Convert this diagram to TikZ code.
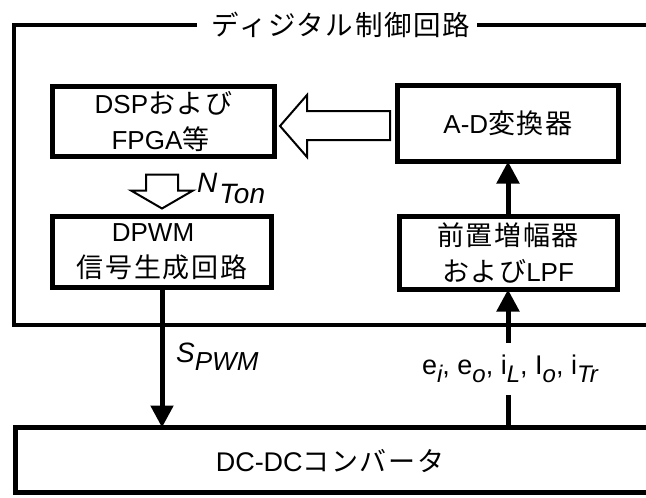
\documentclass[tikz,border=0pt]{standalone}
\usepackage{fontspec}
\setmainfont{Liberation Sans}
\newfontfamily\jp[LetterSpace=6]{Noto Sans CJK JP}
\usetikzlibrary{arrows.meta,calc}
\newcommand\J[1]{{\jp\fontsize{27}{36}\selectfont #1}}
\newcommand\subx[1]{\raisebox{-8pt}{\fontsize{24}{24}\selectfont\itshape #1}}
\begin{document}
\begin{tikzpicture}[x=1pt,y=-1pt,
  blk/.style={draw, line width=5pt, rectangle, outer sep=0pt, inner sep=0pt, fill=white,
    align=center, font=\fontsize{26}{36}\selectfont},
  frameline/.style={line width=4.5pt},
  conn/.style={line width=5pt, -{Triangle[length=22pt,width=22pt]}},
  hollow/.style={draw, line width=2pt, fill=white, line join=miter},
  lab/.style={font=\fontsize{27}{30}\selectfont, inner sep=0pt}]
\useasboundingbox (0,0) rectangle (646,498);
% frame
\draw[frameline] (197,25) -- (14,25) -- (14,325) -- (660,325);
\draw[frameline] (477,25) -- (660,25);
\node[inner sep=0pt, font=\jp\fontsize{27.5}{30}\selectfont] (title) at (341,25) {ディジタル制御回路};
% blocks
\node[blk, minimum width=222pt, minimum height=70pt] (dsp) at (163.5,121.5) {DSP\J{および}\\FPGA\J{等}\kern6pt};
\node[blk, minimum width=221pt, minimum height=76pt] (ad) at (508,123.5) {A-D\J{変換器}};
\node[blk, minimum width=219pt, minimum height=71pt] (dpwm) at (162,252) {DPWM\kern18pt\\\J{信号生成回路}};
\node[blk, minimum width=218pt, minimum height=73pt] (pre) at (508,253) {\J{前置増幅器}\\\J{および}LPF};
\node[blk, minimum width=660pt, minimum height=65pt, anchor=west] (dcdc) at (15.5,460) {};
\node[lab] (dctext) at (330,461) {DC-DC\J{コンバータ}};
% hollow arrows
\coordinate (ht) at ($(dsp.east)+(5.5,4.5)$);
\draw[hollow, shift={(ht)}] (0,0) -- (27,-31) -- (27,-15) -- (110,-15) -- (110,14) -- (27,14) -- (27,31) -- cycle;
\coordinate (vt) at ($(dpwm.north)+(0,-8)$);
\draw[hollow, shift={(vt)}] (0,0) -- (-31,-18) -- (-16,-18) -- (-16,-34) -- (16,-34) -- (16,-18) -- (31,-18) -- cycle;
% connectors
\draw[conn] (dpwm.south) -- (dpwm.south |- dcdc.north);
\draw[conn] (pre.south |- dcdc.north) -- (pre.south);
\draw[conn] (pre.north) -- (ad.south);
% labels
\node[lab, anchor=base west, font=\fontsize{28}{30}\selectfont] (nton) at (197,192) {\itshape N\kern2pt\raisebox{-11pt}{Ton}};
\node[lab, anchor=base west, font=\fontsize{28}{30}\selectfont] (spwm) at (176,362) {\itshape S\subx{\fontsize{26}{26}\selectfont PWM}};
\node[lab, fill=white, inner xsep=3pt, minimum height=52pt] (meas) at (510,369) {e\subx{i}, e\subx{o}, i\subx{L}, I\subx{o}, i\subx{Tr}};
\end{tikzpicture}
\end{document}
